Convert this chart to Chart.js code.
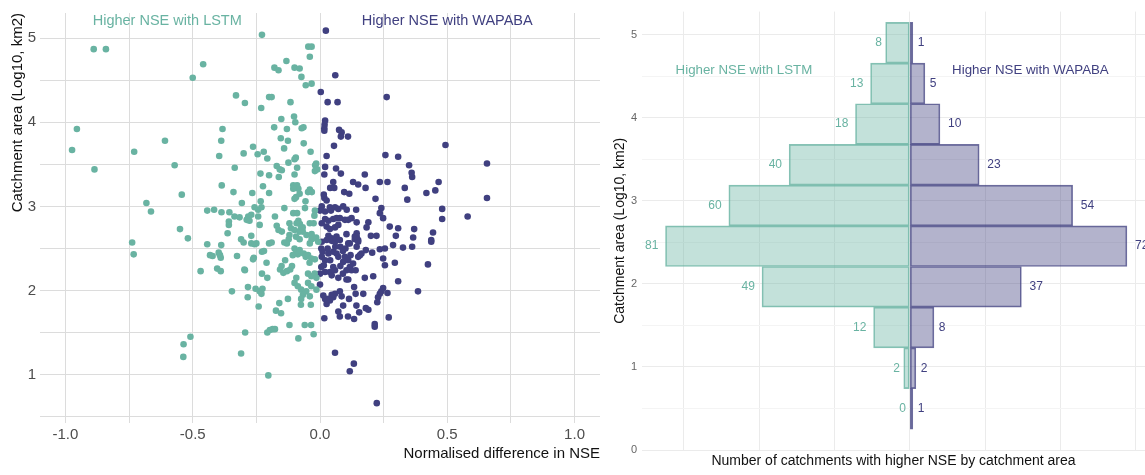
<!DOCTYPE html>
<html>
<head>
<meta charset="utf-8">
<script src="https://cdn.jsdelivr.net/npm/chart.js@4.4.1/dist/chart.umd.min.js"></script>
<style>
  html, body { margin: 0; padding: 0; background: #fff; }
  body { width: 1145px; height: 475px; position: relative; overflow: hidden; }
  canvas { position: absolute; top: 0; }
  #scatter { left: 0; }
  #pyramid { left: 605px; }
</style>
</head>
<body>
<canvas id="scatter" width="605" height="475"></canvas>
<canvas id="pyramid" width="540" height="475"></canvas>
<script>
// catchments where LSTM wins: [normalised NSE difference, log10 area]
let lstmPoints = [
  [-0.889,4.87],[-0.841,4.87],[-0.228,5.04],[-0.046,4.9],[-0.033,4.9],[-0.04,4.78],[-0.459,4.69],[-0.132,4.73],
  [-0.179,4.65],[-0.163,4.62],[-0.1,4.65],[-0.08,4.64],[-0.073,4.54],[-0.5,4.53],[-0.056,4.44],[-0.033,4.46],
  [-0.33,4.32],[-0.295,4.23],[-0.2,4.3],[-0.19,4.3],[-0.116,4.24],[-0.231,4.17],
  [-0.102,4.07],[-0.152,4.04],[-0.097,4.0],[-0.18,3.94],[-0.13,3.92],[-0.072,3.93],[-0.065,3.94],[-0.383,3.92],
  [-0.154,3.81],[-0.126,3.78],[-0.388,3.78],[-0.064,3.75],[-0.263,3.71],[-0.141,3.69],[-0.221,3.65],[-0.3,3.63],
  [-0.245,3.62],[-0.037,3.65],[-0.396,3.6],[-0.207,3.57],[-0.095,3.58],[-0.1,3.56],[-0.124,3.52],[-0.015,3.51],
  [-0.019,3.49],[-0.17,3.48],[-0.09,3.46],[-0.335,3.46],[-0.158,3.44],[-0.15,3.43],[-0.02,3.42],[-0.011,3.44],
  [-0.234,3.39],[-0.2,3.37],[-0.162,3.35],[-0.1,3.38],
  [-0.386,3.25],[-0.224,3.24],[-0.105,3.25],[-0.098,3.23],[-0.09,3.25],[-0.085,3.21],[-0.105,3.21],[-0.04,3.2],
  [-0.032,3.17],[-0.047,3.17],[-0.2,3.16],[-0.266,3.16],[-0.34,3.17],[-0.094,3.11],[-0.1,3.09],[-0.057,3.06],
  [-0.08,3.15],[-0.543,3.14],[-0.233,3.06],[-0.307,3.04],[-0.23,2.99],[-0.243,2.96],[-0.257,2.99],[-0.443,2.95],
  [-0.416,2.96],[-0.387,2.93],[-0.356,2.93],[-0.336,2.88],[-0.316,2.87],[-0.27,2.9],[-0.282,2.88],[-0.288,2.84],
  [-0.277,2.83],[-0.243,2.88],[-0.358,2.82],[-0.358,2.78],[-0.14,2.98],[-0.177,2.88],[-0.105,2.92],[-0.09,2.92],
  [-0.059,2.98],[-0.02,2.95],[-0.022,2.89],[-0.04,2.8],[-0.025,2.8],[-0.085,2.83],[-0.079,2.79],[-0.092,2.8],
  [-0.12,2.8],[-0.114,2.74],[-0.1,2.72],[-0.075,2.73],[-0.068,2.7],[-0.08,2.7],[-0.068,2.75],[-0.237,2.78],
  [-0.17,2.77],[-0.163,2.72],[-0.15,2.7],[-0.55,2.73],[-0.519,2.62],[-0.363,2.68],[-0.31,2.61],[-0.27,2.65],
  [-0.12,2.66],[-0.123,2.61],[-0.094,2.64],[-0.08,2.61],[-0.053,2.66],[-0.033,2.67],[-0.033,2.61],[-0.015,2.63],
  [-0.443,2.55],[-0.388,2.54],[-0.3,2.57],[-0.27,2.56],[-0.257,2.55],[-0.25,2.56],[-0.2,2.56],[-0.19,2.57],
  [-0.228,2.46],[-0.22,2.47],[-0.432,2.42],[-0.422,2.41],[-0.398,2.45],[-0.393,2.42],[-0.39,2.39],[-0.469,2.23],
  [-0.404,2.26],[-0.39,2.23],[-0.326,2.41],[-0.26,2.39],[-0.263,2.37],[-0.21,2.33],[-0.297,2.25],[-0.295,2.24],
  [-0.228,2.2],[-0.207,2.15],[-0.346,1.99],[-0.283,2.04],[-0.253,2.02],[-0.237,1.99],[-0.226,2.02],[-0.23,1.96],
  [-0.284,1.92],[-0.241,1.81],[-0.173,1.76],[-0.153,1.73],[-0.16,1.85],[-0.126,1.9],[-0.294,1.5],[-0.207,1.5],
  [-0.197,1.53],[-0.186,1.54],[-0.177,1.54],[-0.12,1.59],[-0.085,1.43],[-0.06,1.59],[-0.035,1.59],[-0.025,1.48],
  [-0.509,1.45],[-0.536,1.36],[-0.537,1.21],[-0.31,1.25],[-0.203,0.99],
  [-0.14,2.57],[-0.13,2.56],[-0.1,2.5],[-0.093,2.47],[-0.087,2.43],[-0.107,2.42],[-0.08,2.48],[-0.064,2.44],
  [-0.056,2.4],[-0.047,2.42],[-0.137,2.36],[-0.151,2.29],[-0.157,2.25],[-0.144,2.21],[-0.13,2.23],[-0.117,2.25],
  [-0.11,2.29],[-0.093,2.15],[-0.1,2.09],[-0.087,2.05],[-0.074,2.01],[-0.067,1.95],[-0.047,2.2],[-0.034,2.17],
  [-0.021,2.2],[-0.014,2.15],[-0.047,2.09],[-0.034,2.05],[-0.014,2.01],[-0.04,1.93],[-0.054,1.99],[-0.074,1.9],
  [-0.036,1.83],[-0.075,1.83],[-0.02,2.37],[-0.034,2.38],[-0.041,2.33],[-0.04,2.56],[-0.027,2.62],[-0.007,2.58],
  [-0.955,3.92],[-0.974,3.67],[-0.886,3.44],[-0.73,3.65],[-0.609,3.78],[-0.571,3.49],[-0.682,3.04],[-0.664,2.94],
  [-0.738,2.57],[-0.732,2.43]
];

// catchments where WAPABA wins
let wapabaPoints = [
  [0.023,5.09],[0.06,4.56],[0.003,4.36],[0.03,4.24],[0.069,4.24],[0.262,4.3],
  [0.02,4.02],[0.018,3.97],[0.017,3.93],[0.017,3.9],[0.075,3.91],[0.085,3.88],[0.082,3.83],[0.11,3.83],
  [0.493,3.73],[0.055,3.72],[0.026,3.6],[0.257,3.61],[0.307,3.59],[0.35,3.49],[0.02,3.47],[0.063,3.45],
  [0.36,3.4],[0.362,3.35],[0.017,3.38],[0.082,3.39],[0.176,3.38],[0.13,3.29],[0.15,3.26],[0.052,3.29],
  [0.235,3.29],[0.265,3.29],[0.466,3.29],[0.04,3.22],[0.056,3.22],[0.179,3.22],[0.333,3.22],[0.453,3.19],
  [0.418,3.16],[0.095,3.17],[0.115,3.15],[0.015,3.14],[0.017,3.1],[0.026,3.07],[0.218,3.09],[0.343,3.08],
  [0.007,3.0],[0.039,2.99],[0.059,2.99],[0.072,2.97],[0.091,3.0],[0.105,2.96],[0.0,2.95],[0.02,2.94],
  [0.043,2.95],[0.241,2.98],[0.235,2.92],[0.248,2.86],[0.142,2.96],[0.48,2.97],[0.58,2.88],[0.48,2.85],
  [0.656,3.51],[0.656,3.1],[0.02,2.85],[0.033,2.83],[0.052,2.85],[0.065,2.86],[0.078,2.86],[0.098,2.84],
  [0.111,2.84],[0.124,2.86],[0.007,2.8],[0.026,2.76],[0.039,2.73],[0.059,2.75],[0.072,2.78],[0.144,2.81],
  [0.19,2.81],[0.274,2.76],[0.307,2.74],[0.37,2.73],[0.444,2.69],[0.2,2.65],[0.222,2.65],[0.144,2.68],
  [0.137,2.64],[0.15,2.6],[0.183,2.75],[0.298,2.65],[0.366,2.63],[0.437,2.6],[0.033,2.65],[0.052,2.61],
  [0.078,2.6],[0.104,2.67],[0.046,2.59],
  [0.437,2.58],[0.287,2.54],[0.326,2.51],[0.362,2.52],[0.235,2.49],[0.255,2.5],[0.18,2.48],[0.205,2.45],
  [0.248,2.38],[0.255,2.3],[0.294,2.33],[0.424,2.31],[0.144,2.52],[0.117,2.56],[0.15,2.4],[0.163,2.44],
  [0.157,2.42],[0.176,2.15],[0.209,2.17],[0.307,2.11],[0.248,2.03],[0.241,1.99],[0.235,1.96],[0.228,1.92],
  [0.225,1.86],[0.265,1.97],[0.385,1.99],[0.134,2.04],[0.14,1.96],[0.17,1.96],[0.114,1.9],[0.143,1.82],
  [0.18,1.79],[0.19,1.77],[0.154,1.74],[0.11,1.69],[0.134,1.66],[0.27,1.68],[0.215,1.6],[0.215,1.57],
  [0.078,1.99],[0.085,1.93],[0.013,1.94],[0.02,1.9],[0.026,1.84],[0.039,1.88],[0.052,1.92],[0.059,1.96],
  [0.046,1.95],[0.033,1.9],[0.091,1.82],[0.072,1.75],[0.078,1.69],[0.017,1.67],[0.059,1.26],[0.133,1.13],
  [0.117,1.04],[0.223,0.66],
  [0.007,2.58],[0.026,2.6],[0.046,2.62],[0.059,2.58],[0.065,2.64],[0.111,2.56],[0.137,2.61],[0.15,2.58],
  [0.144,2.64],[0.007,2.4],[0.02,2.36],[0.033,2.44],[0.052,2.46],[0.065,2.44],[0.072,2.4],[0.091,2.34],
  [0.098,2.4],[0.111,2.36],[0.117,2.28],[0.104,2.24],[0.124,2.24],[0.052,2.28],[0.059,2.24],[0.039,2.22],
  [0.046,2.18],[0.072,2.15],[0.02,2.22],[0.0,2.2],[0.111,2.13],[0.104,2.13],[0.0,2.07],
  [0.005,2.5],[0.01,2.46],[0.015,2.3],[0.005,2.28],[0.03,2.5],[0.04,2.36],[0.08,2.52],[0.09,2.47],
  [0.1,2.5],[0.06,2.52],[0.12,2.42],[0.13,2.32],[0.08,2.29],[0.09,2.2],[0.14,2.24]
];

// histogram of log10 catchment area, counts per bin
let binCentres = [0.495, 0.985, 1.475, 1.965, 2.455, 2.945, 3.435, 3.925, 4.415, 4.905];
let lstmCounts = [0, 2, 12, 49, 81, 60, 40, 18, 13, 8];
let wapabaCounts = [1, 2, 8, 37, 72, 54, 23, 10, 5, 1];

let teal = '#69b3a2';
let navy = '#404080';
let fontFamily = '"Liberation Sans", Arial, sans-serif';

Chart.defaults.font.family = fontFamily;
Chart.defaults.animation = false;

// text placed in data coordinates
let textNotes = {
  id: 'textNotes',
  afterDatasetsDraw(chart, args, opts) {
    let ctx = chart.ctx;
    ctx.save();
    ctx.font = opts.size + 'px ' + fontFamily;
    ctx.textAlign = 'center';
    ctx.textBaseline = 'middle';
    opts.notes.forEach(n => {
      ctx.fillStyle = n.color;
      ctx.fillText(n.text, chart.scales.x.getPixelForValue(n.x), chart.scales.y.getPixelForValue(n.y));
    });
    ctx.restore();
  }
};

// count labels at the end of each bar
let barLabels = {
  id: 'barLabels',
  afterDatasetsDraw(chart) {
    let ctx = chart.ctx;
    ctx.save();
    ctx.font = '12px ' + fontFamily;
    ctx.textBaseline = 'middle';
    chart.data.datasets.forEach((ds, di) => {
      chart.getDatasetMeta(di).data.forEach((bar, i) => {
        let v = ds.data[i].x;
        let txt = String(Math.abs(v));
        let w = ctx.measureText(txt).width;
        ctx.fillStyle = ds.labelColor;
        if (ds.side === 'left') {
          ctx.textAlign = 'right';
          ctx.fillText(txt, bar.x - w / 2 - 0.5, bar.y);
        } else {
          ctx.textAlign = 'left';
          ctx.fillText(txt, bar.x + w / 2 + 1.5, bar.y);
        }
      });
    });
    ctx.restore();
  }
};

new Chart(document.getElementById('scatter'), {
  type: 'scatter',
  data: {
    datasets: [
      {
        label: 'LSTM',
        data: lstmPoints.map(p => ({x: p[0], y: p[1]})),
        backgroundColor: teal,
        pointRadius: 3.3,
        borderWidth: 0
      },
      {
        label: 'WAPABA',
        data: wapabaPoints.map(p => ({x: p[0], y: p[1]})),
        backgroundColor: navy,
        pointRadius: 3.3,
        borderWidth: 0
      }
    ]
  },
  plugins: [textNotes],
  options: {
    responsive: false,
    devicePixelRatio: 1,
    layout: { padding: { top: 8, right: 5, left: 0, bottom: 0 } },
    plugins: {
      legend: { display: false },
      tooltip: { enabled: false },
      textNotes: {
        size: 14.5,
        notes: [
          { text: 'Higher NSE with LSTM', x: -0.6, y: 5.2, color: teal },
          { text: 'Higher NSE with WAPABA', x: 0.5, y: 5.2, color: navy }
        ]
      }
    },
    scales: {
      x: {
        type: 'linear',
        min: -1.1,
        max: 1.1,
        border: { display: false },
        grid: { color: '#dcdcdc', drawTicks: false },
        ticks: {
          stepSize: 0.25,
          includeBounds: false,
          autoSkip: false,
          maxRotation: 0,
          padding: 3,
          color: '#4d4d4d',
          font: { size: 15 },
          callback: v => (Math.abs(v * 2 - Math.round(v * 2)) < 1e-9 ? v.toFixed(1) : '')
        },
        title: {
          display: true,
          text: 'Normalised difference in NSE',
          align: 'end',
          color: '#111',
          font: { size: 15 },
          padding: { top: 0, bottom: 12.5 }
        },
        afterFit: s => { s.height = 52.5; }
      },
      y: {
        type: 'linear',
        min: 0.43,
        max: 5.3,
        border: { display: false },
        grid: { color: '#dcdcdc', drawTicks: false },
        ticks: {
          stepSize: 0.5,
          includeBounds: false,
          autoSkip: false,
          padding: 4,
          color: '#4d4d4d',
          font: { size: 15 },
          callback: v => (Number.isInteger(v) ? String(v) : '')
        },
        title: {
          display: true,
          text: 'Catchment area (Log10, km2)',
          align: 'end',
          color: '#111',
          font: { size: 15 },
          padding: { top: 9, bottom: 0 }
        },
        afterFit: s => { s.width = 40; }
      }
    }
  }
});

new Chart(document.getElementById('pyramid'), {
  type: 'bar',
  data: {
    datasets: [
      {
        label: 'LSTM',
        side: 'left',
        labelColor: teal,
        data: binCentres.map((c, i) => ({x: -lstmCounts[i], y: c})),
        backgroundColor: 'rgba(105,179,162,0.4)',
        borderColor: 'rgba(105,179,162,0.8)',
        borderWidth: 1,
        borderSkipped: false,
        grouped: false,
        categoryPercentage: 1,
        barPercentage: 1
      },
      {
        label: 'WAPABA',
        side: 'right',
        labelColor: navy,
        data: binCentres.map((c, i) => ({x: wapabaCounts[i], y: c})),
        backgroundColor: 'rgba(64,64,128,0.4)',
        borderColor: 'rgba(64,64,128,0.75)',
        borderWidth: 1,
        borderSkipped: false,
        grouped: false,
        categoryPercentage: 1,
        barPercentage: 1
      }
    ]
  },
  plugins: [barLabels, textNotes],
  options: {
    indexAxis: 'y',
    responsive: false,
    devicePixelRatio: 1,
    layout: { padding: { top: 10, right: 0, left: 0, bottom: 0 } },
    plugins: {
      legend: { display: false },
      tooltip: { enabled: false },
      textNotes: {
        size: 13.3,
        notes: [
          { text: 'Higher NSE with LSTM', x: -55, y: 4.57, color: teal },
          { text: 'Higher NSE with WAPABA', x: 40, y: 4.57, color: navy }
        ]
      }
    },
    scales: {
      x: {
        type: 'linear',
        min: -88.8,
        max: 78,
        border: { display: false },
        grid: { color: '#ebebeb', drawTicks: false },
        ticks: { display: false, stepSize: 25, includeBounds: false },
        title: {
          display: true,
          text: 'Number of catchments with higher NSE by catchment area',
          color: '#111',
          font: { size: 14 },
          padding: { top: 0, bottom: 5 }
        },
        afterFit: s => { s.height = 25; }
      },
      y: {
        type: 'linear',
        min: 0,
        max: 5.28,
        offset: false,
        border: { display: false },
        grid: {
          offset: false,
          drawTicks: false,
          color: c => (c.tick && !Number.isInteger(c.tick.value) ? '#f4f4f4' : '#ebebeb')
        },
        ticks: {
          stepSize: 0.5,
          includeBounds: false,
          autoSkip: false,
          padding: 5,
          color: '#666',
          font: { size: 11 },
          callback: v => (Number.isInteger(v) ? String(v) : '')
        },
        title: {
          display: true,
          text: 'Catchment area (Log10, km2)',
          color: '#111',
          font: { size: 14 },
          padding: { top: 6.6, bottom: 0 }
        },
        afterFit: s => { s.width = 37; }
      }
    }
  }
});
</script>
</body>
</html>
